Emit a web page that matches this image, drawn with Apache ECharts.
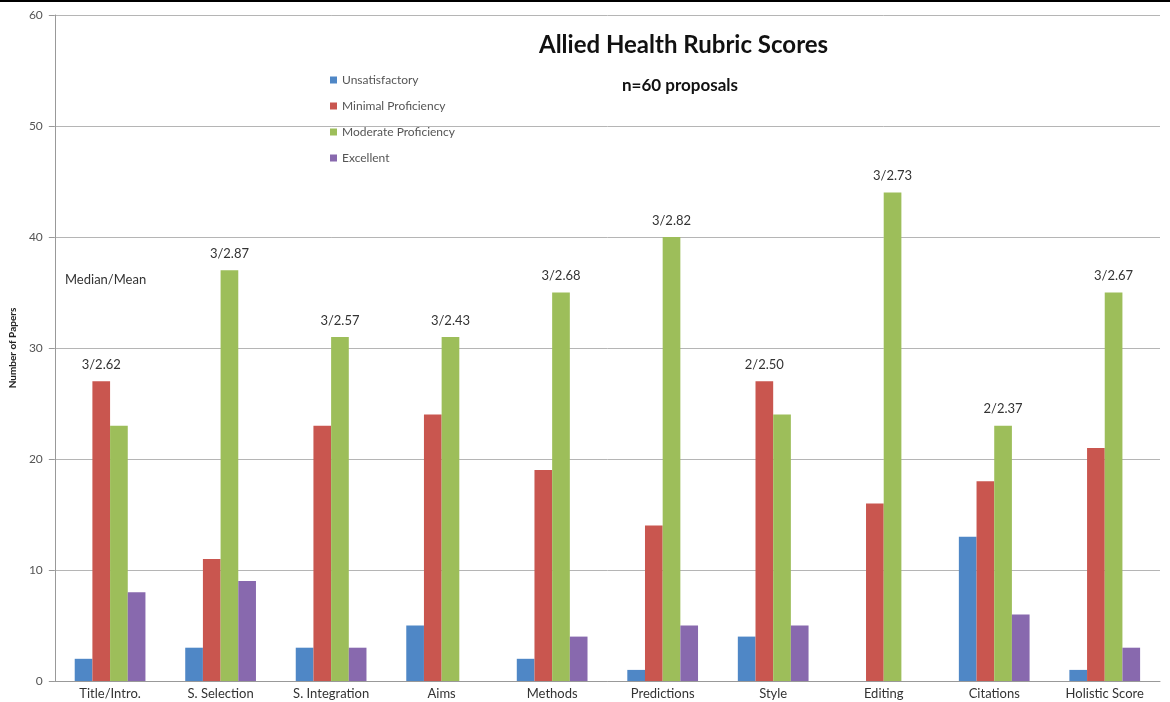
<!DOCTYPE html>
<html>
<head>
<meta charset="utf-8">
<script src="https://cdn.jsdelivr.net/npm/echarts@6/dist/echarts.min.js"></script>
<style>
  html, body { margin: 0; padding: 0; background: #fff; }
  #chart { width: 1170px; height: 702px; }
</style>
</head>
<body>
<div id="chart"></div>
<script>
// categories and counts
const categories = ['Title/Intro.', 'S. Selection', 'S. Integration', 'Aims', 'Methods',
  'Predictions', 'Style', 'Editing', 'Citations', 'Holistic Score'];
const unsatisfactory = [2, 3, 3, 5, 2, 1, 4, 0, 13, 1];
const minimal = [27, 11, 23, 24, 19, 14, 27, 16, 18, 21];
const moderate = [23, 37, 31, 31, 35, 40, 24, 44, 23, 35];
const excellent = [8, 9, 3, 0, 4, 5, 5, 0, 6, 3];
const medianMean = ['3/2.62', '3/2.87', '3/2.57', '3/2.43', '3/2.68',
  '3/2.82', '2/2.50', '3/2.73', '2/2.37', '3/2.67'];
const yTicks = [0, 10, 20, 30, 40, 50, 60];

const seriesNames = ['Unsatisfactory', 'Minimal Proficiency', 'Moderate Proficiency', 'Excellent'];
const seriesValues = [unsatisfactory, minimal, moderate, excellent];
const colors = ['#4f87c6', '#c9564f', '#9dbe5a', '#8869ae'];
const font = 'Lato, "Open Sans", sans-serif';

// median/mean label goes on the tallest bar of each category
function maxIndex(i) {
  let best = 0;
  seriesValues.forEach((vals, s) => { if (vals[i] > seriesValues[best][i]) best = s; });
  return best;
}

const chart = echarts.init(document.getElementById('chart'));

const series = seriesValues.map((vals, s) => ({
  name: seriesNames[s],
  type: 'bar',
  barGap: '0%',
  barCategoryGap: '36%',
  itemStyle: { color: colors[s] },
  data: vals.map((v, i) => {
    if (maxIndex(i) !== s) return v;
    return {
      value: v,
      label: {
        show: true,
        position: 'top',
        distance: 10,
        formatter: medianMean[i],
        fontFamily: font,
        fontSize: 13,
        color: '#333'
      }
    };
  })
}));

chart.setOption({
  animation: false,
  textStyle: { fontFamily: font },
  graphic: [
    { type: 'line', shape: { x1: 0, y1: 1, x2: 1170, y2: 1 }, style: { stroke: '#000', lineWidth: 2 } },
    { type: 'text', left: 539, top: 33, style: { text: 'Allied Health Rubric Scores', font: 'bold 24px ' + font, fill: '#111' } },
    { type: 'text', left: 622, top: 77, style: { text: 'n=60 proposals', font: 'bold 17px ' + font, fill: '#111' } },
    { type: 'text', left: 65, top: 273, style: { text: 'Median/Mean', font: '13px ' + font, fill: '#333' } }
  ],
  legend: {
    orient: 'vertical',
    left: 325,
    top: 69,
    itemGap: 14,
    itemWidth: 7,
    itemHeight: 7,
    icon: 'rect',
    textStyle: { fontSize: 12, color: '#555', fontFamily: font },
    data: seriesNames
  },
  grid: { left: 53, right: 10, top: 15, bottom: 21 },
  xAxis: {
    type: 'category',
    data: categories,
    axisLine: { lineStyle: { color: '#999' } },
    axisTick: { show: false },
    axisLabel: { color: '#333', fontSize: 13, margin: 6, interval: 0, fontFamily: font }
  },
  yAxis: {
    type: 'value',
    min: yTicks[0],
    max: yTicks[yTicks.length - 1],
    interval: 10,
    name: 'Number of Papers',
    nameLocation: 'middle',
    nameGap: 35,
    nameTextStyle: { fontSize: 10, fontWeight: 'bold', color: '#222', fontFamily: font },
    axisLine: { show: true, lineStyle: { color: '#999' } },
    axisTick: { show: true, length: 6, lineStyle: { color: '#999' } },
    axisLabel: { color: '#555', fontSize: 12, margin: 12, fontFamily: font },
    splitLine: { lineStyle: { color: '#b5b5b5' } }
  },
  series: series
});
</script>
</body>
</html>
